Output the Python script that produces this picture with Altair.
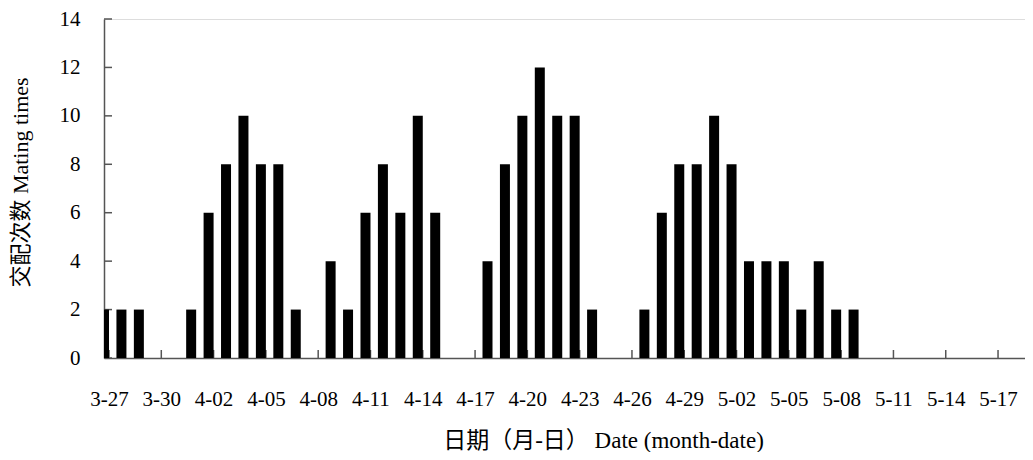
import altair as alt
import pandas as pd

# Day labels (month-date), one per category
dates = ["3-27", "3-28", "3-29", "3-30", "3-31",
         "4-01", "4-02", "4-03", "4-04", "4-05", "4-06", "4-07", "4-08", "4-09", "4-10",
         "4-11", "4-12", "4-13", "4-14", "4-15", "4-16", "4-17", "4-18", "4-19", "4-20",
         "4-21", "4-22", "4-23", "4-24", "4-25", "4-26", "4-27", "4-28", "4-29", "4-30",
         "5-01", "5-02", "5-03", "5-04", "5-05", "5-06", "5-07", "5-08", "5-09", "5-10",
         "5-11", "5-12", "5-13", "5-14", "5-15", "5-16", "5-17", "5-18"]

# Mating times per day
counts = [2, 2, 2, 0, 0,
          2, 6, 8, 10, 8, 8, 2, 0, 4, 2,
          6, 8, 6, 10, 6, 0, 0, 4, 8, 10,
          12, 10, 10, 2, 0, 0, 2, 6, 8, 8,
          10, 8, 4, 4, 4, 2, 4, 2, 2, 0,
          0, 0, 0, 0, 0, 0, 0, 0]

x_tick_idx = list(range(0, len(dates) - 1, 3))
x_tick_labels = [dates[i] for i in x_tick_idx]
y_ticks = [0, 2, 4, 6, 8, 10, 12, 14]

FONT = "Liberation Serif, Noto Sans CJK SC"
FS = 21
AX = "#555555"
W, H = 921, 339
XMAX = 52.26

df = pd.DataFrame({"idx": list(range(len(dates))), "date": dates, "count": counts})
df = df[df["count"] > 0]

label_expr = "{" + ",".join(f"'{i}':'{l}'" for i, l in zip(x_tick_idx, x_tick_labels)) + "}[datum.value]"

xscale = alt.Scale(domain=[0, XMAX], nice=False, zero=False)
yscale = alt.Scale(domain=[0, 14], nice=False)

bars = alt.Chart(df).mark_bar(width=10, xOffset=-5, color="black", clip=True).encode(
    x=alt.X("idx:Q", scale=xscale,
            axis=alt.Axis(values=x_tick_idx, labelExpr=label_expr, ticks=False, grid=False,
                          domainColor=AX, domainWidth=1.5,
                          labelFont=FONT, labelFontSize=FS, labelColor="black",
                          labelPadding=30, labelFlush=False, labelOverlap=False,
                          title="日期（月-日） Date (month-date)",
                          titleFont=FONT, titleFontSize=23, titleFontWeight="normal",
                          titleColor="black", titleX=499, titleY=82,
                          titleBaseline="middle", titleAlign="center")),
    y=alt.Y("count:Q", scale=yscale,
            axis=alt.Axis(values=y_ticks, ticks=False, grid=False,
                          domainColor=AX, domainWidth=1.5,
                          labelFont=FONT, labelFontSize=FS, labelColor="black",
                          labelPadding=24,
                          title="交配次数 Mating times",
                          titleFont=FONT, titleFontSize=22, titleFontWeight="normal",
                          titleColor="black", titleX=-84, titleY=163,
                          titleBaseline="middle", titleAlign="center")),
)

ytick_df = pd.DataFrame({"v": y_ticks})
ytick_rules = alt.Chart(ytick_df).mark_rule(color=AX, strokeWidth=1.5).encode(
    y=alt.Y("v:Q", scale=yscale),
    x=alt.value(0), x2=alt.value(8),
)

xtick_df = pd.DataFrame({"v": x_tick_idx})
xtick_rules = alt.Chart(xtick_df).mark_rule(color=AX, strokeWidth=1.5).encode(
    x=alt.X("v:Q", scale=xscale),
    y=alt.value(H - 8), y2=alt.value(H),
)

chart = alt.layer(xtick_rules, ytick_rules, bars).properties(
    width=W, height=H,
    autosize=alt.AutoSizeParams(type="none"),
    padding={"left": 96, "top": 11, "right": 0, "bottom": 94},
).configure_view(stroke=None).configure(background="white")

chart.save("out.html", embed_options={"renderer": "svg", "actions": False})
